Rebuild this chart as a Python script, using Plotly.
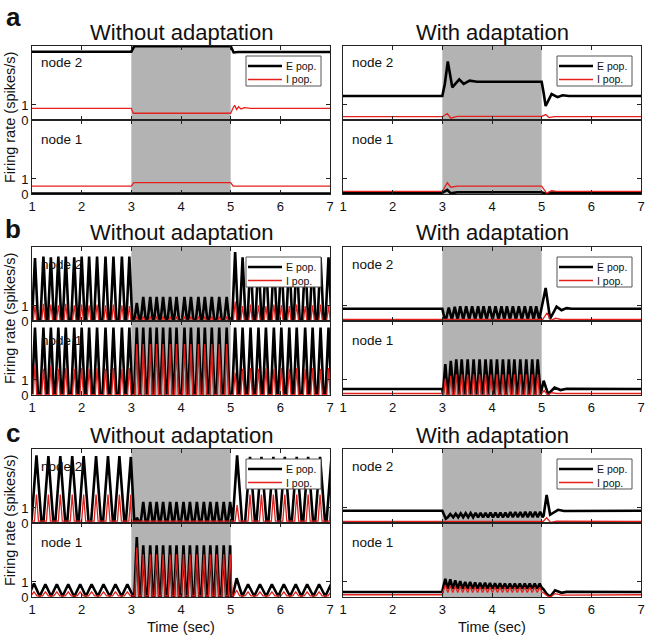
import plotly.graph_objects as go

# ---------------- DATA ----------------
# Panel a, without adaptation
A_L_N2_E_T = [1.0, 3.0, 3.06, 5.0, 5.06, 5.15, 7.0]
A_L_N2_E_V = [4.55, 4.55, 4.92, 4.92, 4.50, 4.53, 4.53]
A_L_N2_I_T = [1.0, 3.0, 3.04, 5.0, 5.04, 5.08, 5.12, 5.16, 5.21, 5.28, 5.4, 7.0]
A_L_N2_I_V = [0.78, 0.78, 0.45, 0.45, 0.75, 0.98, 0.70, 0.88, 0.74, 0.82, 0.78, 0.78]
A_L_N1_E_T = [1.0, 7.0]
A_L_N1_E_V = [0.03, 0.03]
A_L_N1_I_T = [1.0, 3.0, 3.05, 5.0, 5.05, 7.0]
A_L_N1_I_V = [0.53, 0.53, 0.76, 0.76, 0.53, 0.53]

# Panel a, with adaptation
A_R_N2_E_T = [1.0, 3.0, 3.05, 3.11, 3.2, 3.34, 3.43, 3.55, 3.7, 5.0, 5.04, 5.08, 5.2, 5.32, 5.42, 5.55, 7.0]
A_R_N2_E_V = [1.6, 1.6, 2.4, 3.9, 2.18, 2.71, 2.4, 2.62, 2.55, 2.55, 1.8, 0.93, 1.73, 1.52, 1.65, 1.6, 1.6]
A_R_N2_I_T = [1.0, 3.0, 3.1, 3.17, 3.3, 5.0, 5.08, 5.15, 5.25, 7.0]
A_R_N2_I_V = [0.22, 0.22, 0.42, 0.12, 0.24, 0.24, 0.36, 0.16, 0.22, 0.22]
A_R_N1_E_T = [1.0, 3.0, 3.1, 3.17, 3.3, 5.0, 5.1, 5.2, 7.0]
A_R_N1_E_V = [0.08, 0.08, 0.28, 0.04, 0.12, 0.12, 0.0, 0.1, 0.08]
A_R_N1_I_T = [1.0, 3.0, 3.1, 3.17, 3.3, 5.0, 5.1, 5.2, 5.3, 7.0]
A_R_N1_I_V = [0.17, 0.17, 0.75, 0.45, 0.53, 0.53, 0.06, 0.22, 0.17, 0.17]

# Panel b, without adaptation: peak times (both nodes)
B_PRE_T = [1.06, 1.23, 1.38, 1.53, 1.68, 1.85, 2.00, 2.15, 2.31, 2.48, 2.64, 2.81, 2.96]
B_STIM_T = [3.11, 3.24, 3.38, 3.51, 3.64, 3.78, 3.91, 4.07, 4.20, 4.35, 4.48, 4.62, 4.77, 4.92]
B_POST_T = [5.09, 5.24, 5.40, 5.56, 5.71, 5.87, 6.02, 6.18, 6.33, 6.50, 6.65, 6.81, 6.97]
B_L_N2_E_PRE = [4.2, 4.3, 4.25, 4.3, 4.3, 4.25, 4.3, 4.3, 4.3, 4.3, 4.3, 4.3, 4.3]
B_L_N2_E_STIM = [1.2, 1.6, 1.6, 1.6, 1.6, 1.6, 1.6, 1.6, 1.6, 1.6, 1.6, 1.6, 1.6, 1.6]
B_L_N2_E_POST = [4.6, 4.25, 4.25, 4.25, 4.25, 4.25, 4.25, 4.25, 4.25, 4.25, 4.25, 4.25, 4.25]
B_L_N2_I_PRE = [1.0, 1.15, 1.1, 1.05, 1.15, 1.05, 1.1, 1.05, 1.1, 1.05, 1.1, 1.05, 1.0]
B_L_N2_I_STIM = [0.3, 0.3, 0.3, 0.3, 0.3, 0.3, 0.3, 0.3, 0.3, 0.3, 0.3, 0.3, 0.3, 0.3]
B_L_N2_I_POST = [1.3, 1.0, 1.1, 1.05, 1.0, 1.1, 1.05, 1.0, 1.1, 1.0, 1.05, 1.1, 1.0]
B_L_N1_E_PRE = [4.5, 4.5, 4.5, 4.5, 4.5, 4.5, 4.5, 4.5, 4.5, 4.5, 4.5, 4.5, 4.5]
B_L_N1_E_STIM = [4.5, 4.5, 4.5, 4.5, 4.5, 4.5, 4.5, 4.5, 4.5, 4.5, 4.5, 4.5, 4.5, 4.5]
B_L_N1_E_POST = [4.5, 4.5, 4.5, 4.5, 4.5, 4.5, 4.5, 4.5, 4.5, 4.5, 4.5, 4.5, 4.5]
B_L_N1_I_PRE = [2.0, 1.75, 1.95, 1.75, 1.8, 1.75, 1.8, 1.75, 1.8, 1.75, 1.8, 1.75, 1.8]
B_L_N1_I_STIM = [3.4, 3.4, 3.4, 3.4, 3.4, 3.4, 3.4, 3.4, 3.4, 3.4, 3.4, 3.4, 3.4, 3.4]
B_L_N1_I_POST = [1.5, 1.75, 1.8, 1.75, 1.8, 1.75, 1.8, 1.75, 1.8, 1.75, 1.8, 1.75, 1.8]

# Panel b, with adaptation
B_R_N2_STIM_T = [3.13, 3.25, 3.36, 3.48, 3.60, 3.72, 3.83, 3.95, 4.07, 4.19, 4.30, 4.42, 4.54, 4.66, 4.78, 4.89]
B_R_N2_STIM_E = [0.9, 0.95, 0.98, 0.98, 0.98, 0.98, 0.98, 0.98, 0.98, 0.98, 0.98, 0.98, 0.98, 0.98, 0.98, 0.98]
B_R_N2_E_T = [1.0, 3.0, 3.05, 4.95, 5.08, 5.17, 5.3, 5.4, 5.5, 5.6, 7.0]
B_R_N2_E_V = [0.82, 0.82, 0.08, 0.08, 2.2, 0.15, 0.95, 0.72, 0.86, 0.82, 0.82]
B_R_N2_I_T = [1.0, 5.02, 5.11, 5.18, 5.28, 5.4, 7.0]
B_R_N2_I_V = [0.1, 0.1, 0.55, 0.03, 0.18, 0.1, 0.1]
B_R_N1_STIM_T = [3.06, 3.17, 3.28, 3.39, 3.51, 3.63, 3.75, 3.87, 3.98, 4.10, 4.22, 4.34, 4.45, 4.57, 4.69, 4.81, 4.92]
B_R_N1_STIM_E = [2.05, 2.27, 2.38, 2.38, 2.38, 2.38, 2.38, 2.38, 2.38, 2.38, 2.38, 2.38, 2.38, 2.38, 2.38, 2.38, 2.38]
B_R_N1_STIM_I = [1.1, 1.3, 1.38, 1.38, 1.38, 1.38, 1.38, 1.38, 1.38, 1.38, 1.38, 1.38, 1.38, 1.38, 1.38, 1.38, 1.38]
B_R_N1_E_T = [1.0, 3.0, 4.98, 5.04, 5.13, 5.26, 5.38, 5.5, 7.0]
B_R_N1_E_V = [0.4, 0.4, 0.05, 0.95, 0.05, 0.5, 0.33, 0.42, 0.4]
B_R_N1_I_T = [1.0, 3.0, 4.98, 5.05, 5.12, 5.2, 5.3, 7.0]
B_R_N1_I_V = [0.1, 0.1, 0.03, 0.3, 0.0, 0.15, 0.1, 0.1]

# Panel c, without adaptation
C_N2_PRE_T = [1.09, 1.33, 1.57, 1.81, 2.04, 2.29, 2.53, 2.76, 2.99]
C_N1_PRE_T = [1.04, 1.27, 1.50, 1.73, 1.97, 2.20, 2.44, 2.68, 2.92]
C_STIM_T = [3.11, 3.24, 3.38, 3.51, 3.64, 3.78, 3.91, 4.05, 4.18, 4.32, 4.46, 4.59, 4.72, 4.86, 4.99]
C_N2_POST_T = [5.13, 5.39, 5.62, 5.86, 6.09, 6.33, 6.56, 6.80, 7.03]
C_N1_POST_T = [5.12, 5.35, 5.59, 5.83, 6.07, 6.31, 6.54, 6.78, 7.02]
C_L_N2_E_PRE = [4.5, 4.45, 4.45, 4.45, 4.45, 4.45, 4.45, 4.45, 4.4]
C_L_N2_E_STIM = [0.35, 1.4, 1.4, 1.4, 1.4, 1.4, 1.4, 1.4, 1.4, 1.4, 1.4, 1.4, 1.4, 1.4, 1.4]
C_L_N2_E_POST = [4.5, 4.4, 4.4, 4.4, 4.4, 4.4, 4.4, 4.4, 4.4]
C_L_N2_I_PRE = [1.9, 1.9, 1.9, 1.9, 1.9, 1.9, 1.9, 1.9, 1.9]
C_L_N2_I_POST = [1.2, 1.9, 1.9, 1.9, 1.9, 1.9, 1.9, 1.9, 1.9]
C_L_N1_E_PRE = [0.9, 0.85, 0.85, 0.85, 0.85, 0.85, 0.85, 0.85, 0.85]
C_L_N1_E_STIM = [4.0, 3.45, 3.45, 3.45, 3.45, 3.45, 3.45, 3.45, 3.45, 3.45, 3.45, 3.45, 3.45, 3.45, 3.45]
C_L_N1_E_POST = [1.25, 0.85, 0.85, 0.85, 0.85, 0.85, 0.85, 0.85, 0.85]
C_L_N1_I_PRE = [0.35, 0.35, 0.35, 0.35, 0.35, 0.35, 0.35, 0.35, 0.35]
C_L_N1_I_STIM = [3.3, 2.85, 2.85, 2.85, 2.85, 2.85, 2.85, 2.85, 2.85, 2.85, 2.85, 2.85, 2.85, 2.85, 2.85]
C_L_N1_I_POST = [0.45, 0.35, 0.35, 0.35, 0.35, 0.35, 0.35, 0.35, 0.35]

# Panel c, with adaptation
C_R_N2_STIM_T = [3.16, 3.27, 3.37, 3.47, 3.57, 3.67, 3.77, 3.87, 3.97, 4.07, 4.17, 4.27, 4.37, 4.47, 4.57, 4.67, 4.77, 4.87, 4.97]
C_R_N2_STIM_E = [0.6, 0.62, 0.64, 0.65, 0.66, 0.67, 0.68, 0.68, 0.69, 0.7, 0.7, 0.7, 0.72, 0.72, 0.72, 0.74, 0.74, 0.75, 0.75]
C_R_N2_E_T = [1.0, 3.0, 3.07, 5.04, 5.1, 5.17, 5.33, 5.45, 7.0]
C_R_N2_E_V = [0.82, 0.82, 0.28, 0.5, 1.87, 0.55, 0.88, 0.8, 0.82]
C_R_N2_I_T = [1.0, 5.03, 5.1, 5.18, 5.3, 7.0]
C_R_N2_I_V = [0.1, 0.1, 0.35, 0.04, 0.12, 0.1]
C_R_N1_STIM_T = [3.06, 3.16, 3.26, 3.36, 3.46, 3.56, 3.66, 3.76, 3.86, 3.96, 4.06, 4.16, 4.26, 4.36, 4.46, 4.56, 4.66, 4.76, 4.86, 4.96]
C_R_N1_STIM_E = [1.22, 1.18, 1.1, 1.05, 1.0, 1.0, 0.97, 0.95, 0.95, 0.93, 0.92, 0.92, 0.9, 0.9, 0.9, 0.9, 0.9, 0.9, 0.9, 0.9]
C_R_N1_STIM_I = [0.8, 0.75, 0.72, 0.7, 0.68, 0.68, 0.66, 0.66, 0.65, 0.65, 0.65, 0.65, 0.65, 0.65, 0.65, 0.65, 0.65, 0.65, 0.65, 0.65]
C_R_N1_E_T = [1.0, 3.0, 5.03, 5.1, 5.17, 5.27, 5.4, 5.5, 7.0]
C_R_N1_E_V = [0.33, 0.33, 0.55, 0.22, 0.02, 0.45, 0.28, 0.34, 0.33]
C_R_N1_I_T = [1.0, 3.0, 5.03, 5.1, 5.17, 5.27, 5.4, 7.0]
C_R_N1_I_V = [0.15, 0.15, 0.3, 0.1, 0.0, 0.22, 0.13, 0.15]

X_TICKS = [1, 2, 3, 4, 5, 6, 7]
Y_TICKS = [0, 1]
STIM_START, STIM_END = 3, 5
PANEL_LETTERS = ["a", "b", "c"]
COL_TITLES = ["Without adaptation", "With adaptation"]
NODE_LABELS = ["node 2", "node 1"]
LEGEND_LABELS = ["E pop.", "I pop."]
Y_TITLE = "Firing rate (spikes/s)"
X_TITLE = "Time (sec)"

# ---------------- STYLE / LAYOUT ----------------
W, H = 646, 635
FONT = "Liberation Sans, Arial, Helvetica, sans-serif"
E_COLOR = "#000000"
I_COLOR = "#e3201c"
E_WIDTH = 2.6
I_WIDTH = 1.3
FRAME = "#222222"
GRAY = "#b3b3b3"
COL_X = [(32, 330), (343, 641)]
PANEL_TOP = [46, 247, 449]
LETTER_Y = [17, 229, 433]
NODE_H = 74
Y_MAX = 4.93


def fx(p):
    return p / W


def fy(p):
    return 1 - p / H


def make_xy(anchor_t, anchor_v, groups):
    pts = list(zip(anchor_t, anchor_v))
    for times, heights, base, hw in groups:
        for p, h in zip(times, heights):
            pts.extend([(p - hw, base), (p, h), (p + hw, base)])
    pts.sort(key=lambda q: q[0])
    return [q[0] for q in pts], [q[1] for q in pts]


# (panel, col, node) -> (E spec, I spec)
SPECS = {
    (0, 0, 0): ((A_L_N2_E_T, A_L_N2_E_V, []), (A_L_N2_I_T, A_L_N2_I_V, [])),
    (0, 0, 1): ((A_L_N1_E_T, A_L_N1_E_V, []), (A_L_N1_I_T, A_L_N1_I_V, [])),
    (0, 1, 0): ((A_R_N2_E_T, A_R_N2_E_V, []), (A_R_N2_I_T, A_R_N2_I_V, [])),
    (0, 1, 1): ((A_R_N1_E_T, A_R_N1_E_V, []), (A_R_N1_I_T, A_R_N1_I_V, [])),
    (1, 0, 0): (([], [], [(B_PRE_T, B_L_N2_E_PRE, 0.05, 0.06), (B_STIM_T, B_L_N2_E_STIM, 0.05, 0.05),
                         (B_POST_T, B_L_N2_E_POST, 0.05, 0.06)]),
                ([], [], [(B_PRE_T, B_L_N2_I_PRE, 0.03, 0.035), (B_STIM_T, B_L_N2_I_STIM, 0.03, 0.03),
                         (B_POST_T, B_L_N2_I_POST, 0.03, 0.035)])),
    (1, 0, 1): (([], [], [(B_PRE_T, B_L_N1_E_PRE, 0.05, 0.06), (B_STIM_T, B_L_N1_E_STIM, 0.05, 0.055),
                         (B_POST_T, B_L_N1_E_POST, 0.05, 0.06)]),
                ([], [], [(B_PRE_T, B_L_N1_I_PRE, 0.03, 0.035), (B_STIM_T, B_L_N1_I_STIM, 0.03, 0.04),
                         (B_POST_T, B_L_N1_I_POST, 0.03, 0.035)])),
    (1, 1, 0): ((B_R_N2_E_T, B_R_N2_E_V, [(B_R_N2_STIM_T, B_R_N2_STIM_E, 0.08, 0.058)]),
                (B_R_N2_I_T, B_R_N2_I_V, [])),
    (1, 1, 1): ((B_R_N1_E_T, B_R_N1_E_V, [(B_R_N1_STIM_T, B_R_N1_STIM_E, 0.05, 0.05)]),
                (B_R_N1_I_T, B_R_N1_I_V, [(B_R_N1_STIM_T, B_R_N1_STIM_I, 0.03, 0.035)])),
    (2, 0, 0): (([], [], [(C_N2_PRE_T, C_L_N2_E_PRE, 0.05, 0.1), (C_STIM_T, C_L_N2_E_STIM, 0.05, 0.05),
                         (C_N2_POST_T, C_L_N2_E_POST, 0.05, 0.1)]),
                ([1.0, 3.0, 5.0], [0.12, 0.12, 0.12],
                 [(C_N2_PRE_T, C_L_N2_I_PRE, 0.12, 0.04), (C_N2_POST_T, C_L_N2_I_POST, 0.12, 0.04)])),
    (2, 0, 1): (([], [], [(C_N1_PRE_T, C_L_N1_E_PRE, 0.05, 0.115), (C_STIM_T, C_L_N1_E_STIM, 0.05, 0.05),
                         (C_N1_POST_T, C_L_N1_E_POST, 0.05, 0.115)]),
                ([], [], [(C_N1_PRE_T, C_L_N1_I_PRE, 0.08, 0.06), (C_STIM_T, C_L_N1_I_STIM, 0.08, 0.04),
                         (C_N1_POST_T, C_L_N1_I_POST, 0.08, 0.06)])),
    (2, 1, 0): ((C_R_N2_E_T, C_R_N2_E_V, [(C_R_N2_STIM_T, C_R_N2_STIM_E, 0.38, 0.05)]),
                (C_R_N2_I_T, C_R_N2_I_V, [])),
    (2, 1, 1): ((C_R_N1_E_T, C_R_N1_E_V, [(C_R_N1_STIM_T, C_R_N1_STIM_E, 0.55, 0.05)]),
                (C_R_N1_I_T, C_R_N1_I_V, [(C_R_N1_STIM_T, C_R_N1_STIM_I, 0.3, 0.05)])),
}

fig = go.Figure()
layout = dict(
    width=W, height=H, autosize=False,
    margin=dict(l=0, r=0, t=0, b=0, pad=0),
    paper_bgcolor="white", plot_bgcolor="white",
    showlegend=False,
    font=dict(family=FONT, color="#111111"),
)
shapes = []
annotations = []

for p in range(3):
    for c in range(2):
        for n in range(2):
            idx = p * 4 + c * 2 + n + 1
            sfx = "" if idx == 1 else str(idx)
            top = PANEL_TOP[p] + n * NODE_H
            bot = top + NODE_H
            x0, x1 = COL_X[c]
            common = dict(ticks="inside", ticklen=4, tickcolor=FRAME, showline=True,
                          linecolor=FRAME, linewidth=1, mirror="ticks", showgrid=False,
                          zeroline=False, automargin=False, ticklabeloverflow="allow",
                          tickfont=dict(size=13, family=FONT, color="#111111"))
            layout["xaxis" + sfx] = dict(domain=[fx(x0), fx(x1)], range=[1, 7], tickvals=X_TICKS,
                                         showticklabels=(n == 1), anchor="y" + sfx, **common)
            layout["yaxis" + sfx] = dict(domain=[fy(bot), fy(top)], range=[0, Y_MAX], tickvals=Y_TICKS,
                                         showticklabels=(c == 0), anchor="x" + sfx, **common)
            shapes.append(dict(type="rect", xref="x" + sfx, yref="y" + sfx + " domain",
                               x0=STIM_START, x1=STIM_END, y0=0, y1=1, fillcolor=GRAY,
                               line=dict(width=0), layer="below"))
            (et, ev, eg), (it, iv, ig) = SPECS[(p, c, n)]
            ex, ey = make_xy(et, ev, eg)
            ix, iy = make_xy(it, iv, ig)
            fig.add_trace(go.Scatter(x=ex, y=ey, mode="lines", name=LEGEND_LABELS[0],
                                     line=dict(color=E_COLOR, width=E_WIDTH),
                                     xaxis="x" + sfx, yaxis="y" + sfx))
            fig.add_trace(go.Scatter(x=ix, y=iy, mode="lines", name=LEGEND_LABELS[1],
                                     line=dict(color=I_COLOR, width=I_WIDTH),
                                     xaxis="x" + sfx, yaxis="y" + sfx))
            annotations.append(dict(text=NODE_LABELS[n], xref="paper", yref="paper",
                                    x=fx(x0 + 7), y=fy(top + (17 if n == 0 else 19)),
                                    xanchor="left", yanchor="middle", showarrow=False,
                                    font=dict(size=13.5, family=FONT, color="#111111")))
        x0, x1 = COL_X[c]
        annotations.append(dict(text=COL_TITLES[c], xref="paper", yref="paper",
                                x=fx((x0 + x1) / 2), y=fy(PANEL_TOP[p] - 14),
                                xanchor="center", yanchor="middle", showarrow=False,
                                font=dict(size=22, family=FONT, color="#111111")))
        # legend box drawn as decoration
        lx = 246 if c == 0 else 557
        ly = PANEL_TOP[p] + 10
        shapes.append(dict(type="rect", xref="paper", yref="paper",
                           x0=fx(lx), x1=fx(lx + 75), y0=fy(ly + 30), y1=fy(ly),
                           fillcolor="white", line=dict(color="#555555", width=1)))
        for k, (col, wid) in enumerate([(E_COLOR, E_WIDTH), (I_COLOR, I_WIDTH)]):
            yy = ly + 10 + k * 13.5
            shapes.append(dict(type="line", xref="paper", yref="paper",
                               x0=fx(lx + 2), x1=fx(lx + 36), y0=fy(yy), y1=fy(yy),
                               line=dict(color=col, width=wid)))
            annotations.append(dict(text=LEGEND_LABELS[k], xref="paper", yref="paper",
                                    x=fx(lx + 38), y=fy(yy), xanchor="left", yanchor="middle",
                                    showarrow=False,
                                    font=dict(size=10.5, family=FONT, color="#111111")))
    annotations.append(dict(text="<b>" + PANEL_LETTERS[p] + "</b>", xref="paper", yref="paper",
                            x=fx(13), y=fy(LETTER_Y[p]), xanchor="center", yanchor="middle",
                            showarrow=False, font=dict(size=26, family=FONT, color="#111111")))
    annotations.append(dict(text=Y_TITLE, xref="paper", yref="paper", textangle=-90,
                            x=fx(10), y=fy(PANEL_TOP[p] + NODE_H - 2), xanchor="center",
                            yanchor="middle", showarrow=False,
                            font=dict(size=14.5, family=FONT, color="#111111")))

for c in range(2):
    x0, x1 = COL_X[c]
    annotations.append(dict(text=X_TITLE, xref="paper", yref="paper",
                            x=fx((x0 + x1) / 2), y=fy(627), xanchor="center", yanchor="middle",
                            showarrow=False, font=dict(size=14.5, family=FONT, color="#111111")))

layout["shapes"] = shapes
layout["annotations"] = annotations
fig.update_layout(**layout)
fig.write_html("out.html",
               config={"displayModeBar": False},
               post_script="document.body.style.margin='0';document.body.style.padding='0';"
                           "document.body.style.overflow='hidden';")
